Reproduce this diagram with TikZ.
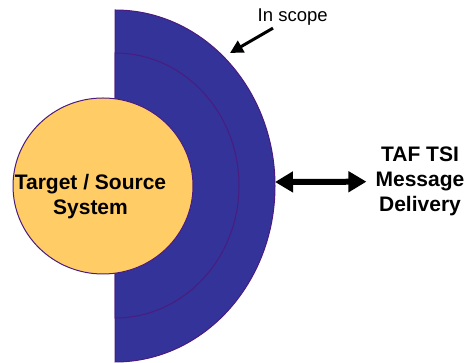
\documentclass[tikz,border=0pt]{standalone}
\usepackage{fontspec}
\setmainfont{Liberation Sans}
\usetikzlibrary{arrows.meta,positioning,shapes.geometric}
\definecolor{scopeblue}{HTML}{333399}
\definecolor{rimline}{HTML}{4B1C7F}
\definecolor{sysyellow}{HTML}{FFCC66}
\tikzset{
    band/.style={fill=scopeblue, draw=rimline, line width=1pt},
    sys/.style={ellipse,
            fill=sysyellow,
            draw=rimline,
            line width=1pt,
            minimum width=180pt,
            minimum height=176pt,
            inner sep=0pt},
    bigtext/.style={font=\fontsize{21}{25}\selectfont\bfseries, align=center, inner sep=0pt},
    smalltext/.style={font=\fontsize{18.5}{22}\selectfont, inner sep=0pt},
    pointer/.style={line width=3pt, -{Triangle[length=13pt,width=13pt]}},
    dblarrow/.style={line width=6pt, {Triangle[length=18pt,width=20pt]}-{Triangle[length=18pt,width=20pt]}},
}

\begin{document}
\begin{tikzpicture}[x=1pt,y=1pt]
\useasboundingbox (0,0) rectangle (465,363);
\draw[band] (115,353) arc[start angle=90,end angle=-90,x radius=160,y radius=176] -- cycle;
\draw[band] (115,310) arc[start angle=90,end angle=-90,x radius=124,y radius=132.5] -- cycle;
\node[sys] (sys) at (103,177) {};
\node[bigtext] (sysname) at (90.5,166.5) {Target / Source\\System};
\coordinate (rim) at (275,181);
\node[bigtext] (taf) at (420,181.5) {TAF TSI\\Message\\Delivery};
\draw[dblarrow, shorten >=9pt] (rim) -- (taf);
\node[smalltext, anchor=base west] (scope) at (257.5,341.3) {In scope};
\coordinate (hit) at (230,310);
\draw[pointer] ([xshift=15.5pt,yshift=-2.4pt]scope.south west) -- (hit);
\end{tikzpicture}
\end{document}
